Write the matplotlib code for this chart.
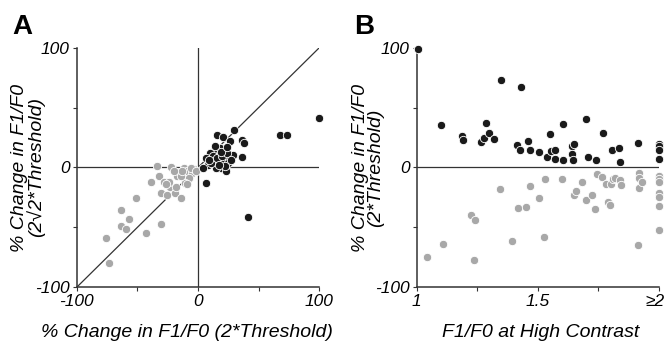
import matplotlib
matplotlib.use("Agg")
from matplotlib import pyplot as plt
import matplotlib.transforms as mtransforms
import numpy as np

plt.rcParams['font.family'] = ['Liberation Sans', 'DejaVu Sans']
plt.rcParams['font.style'] = 'italic'

# Panel A: % change at 2*threshold (x) vs 2*sqrt2*threshold (y)
a_black_x = [100, 67.6, 73.6, 30, 15.7, 21, 26.3, 36.3, 38, 36, 28.5, 22, 18, 13.7,
             10.2, 6.3, 18, 23.4, 12.3, 8.2, 4.2, 15.1, 19.3, 23.4, 6.5, 41.3, 15,
             20, 25, 11, 16, 20, 24, 14, 9, 22, 17, 27, 19, 24]
a_black_y = [41, 27.5, 27.3, 31.7, 26.8, 25.2, 22.3, 23, 20.5, 9, 10.8, 14.8, 16.2, 14.2,
             12, 7.8, 11.4, 7, 9.2, 2.3, -0.3, 3.7, -0.5, -2.8, -13, -41, -0.5,
             5, 4, 4, 8, 10, 12, 18, 6, 1, 2, 6, 13, 17]
a_gray_x = [-73.2, -76.2, -63.5, -63.5, -59.7, -56.9, -51.1, -42.8, -30.4, -39, -33.7,
            -32.3, -28.2, -30.4, -25.4, -22.1, -22.7, -19.3, -14.4, -17.1, -18.5, -11.6,
            -8.8, -4.7, -7.5, -11, -3.3, -14.4, -24, -9, -5.5, -13, -26, -20, -2]
a_gray_y = [-80, -59, -35.7, -48.7, -51.5, -42.6, -25.3, -54.6, -47, -12.5, 1.4,
            -6.7, -12.5, -20.9, -23.1, 0.8, -15.9, -21.4, -25.3, -7.5, -15.9, -0.6,
            -3.3, -4.7, -8.9, -13.1, -1.4, -7.5, -11.7, -14, -0.5, -3, -14, -3, -3]

# Panel B: F1/F0 at high contrast (x) vs % change (y)
b_black_x = [1.004, 1.10, 1.187, 1.19, 1.267, 1.278, 1.285, 1.30, 1.32, 1.347, 1.43,
             1.414, 1.426, 1.46, 1.469, 1.506, 1.549, 1.538, 1.554, 1.572, 1.571,
             1.602, 1.605, 1.641, 1.648, 1.641, 1.646, 1.697, 1.707, 1.739, 1.768,
             1.806, 1.834, 1.84, 1.913, 2.0, 2.0, 2.0, 2.0]
b_black_y = [99.3, 35.1, 26, 22.6, 20.9, 24.3, 37.1, 29, 23.7, 73.1, 67.2,
             18.7, 14.5, 22.3, 14.5, 13.1, 27.6, 8.9, 14, 14.5, 7.5,
             36, 6.4, 17.6, 19.8, 11.4, 6.1, 40.7, 8.6, 5.9, 28.5,
             14.5, 15.9, 4.2, 20.6, 19.5, 17.6, 14.8, 7.5]
b_gray_x = [1.044, 1.109, 1.224, 1.242, 1.237, 1.344, 1.393, 1.418, 1.451, 1.468, 1.505,
            1.53, 1.524, 1.60, 1.649, 1.657, 1.684, 1.70, 1.725, 1.737, 1.743, 1.765,
            1.781, 1.79, 1.798, 1.803, 1.809, 1.82, 1.84, 1.843, 1.916, 1.917, 1.917,
            1.928, 1.913, 2.0, 2.0, 2.0, 2.0, 2.0, 2.0, 2.0]
b_gray_y = [-74.5, -64.2, -39.9, -44.1, -77.3, -17.6, -61.1, -33.5, -32.6, -15.6, -25.4,
            -9.8, -58, -9.8, -23.2, -19.5, -11.7, -26.8, -22.9, -34.9, -5.3, -8.1,
            -13.9, -29, -31, -13.7, -9.5, -8.6, -10.3, -14.5, -4.2, -8.9, -17.3,
            -11.7, -64.4, -6.7, -9.5, -12.3, -20.9, -24.5, -31.8, -52.2]

black = '#1a1a1a'
gray = '#a8a8a8'
line_c = '#333333'

fig = plt.figure(figsize=(6.67, 3.46), dpi=100)
ax_a = fig.add_axes([0.115, 0.1697, 0.3637, 0.6924])
ax_b = fig.add_axes([0.6247, 0.1697, 0.3633, 0.6924])


def style(ax):
    for s in ['top', 'right']:
        ax.spines[s].set_visible(False)
    for s in ['left', 'bottom']:
        ax.spines[s].set_color(line_c)
        ax.spines[s].set_linewidth(1.1)
    ax.tick_params(direction='out', length=3, width=0.8, color=line_c,
                   labelsize=12.5, pad=2)
    ax.set_ylim(-100, 100)
    ax.set_yticks([-100, -50, 0, 50, 100])
    ax.set_yticklabels(['-100', '', '0', '', '100'], fontstyle='italic')


# panel A
style(ax_a)
ax_a.set_xlim(-100, 100)
ax_a.set_xticks([-100, -50, 0, 50, 100])
ax_a.set_xticklabels(['-100', '', '0', '', '100'], fontstyle='italic')
ax_a.axhline(0, color=line_c, lw=0.9, zorder=1)
ax_a.axvline(0, color=line_c, lw=0.9, zorder=1)
ax_a.plot([-100, 100], [-100, 100], color=line_c, lw=0.9, zorder=1)
ax_a.scatter(a_gray_x, a_gray_y, s=36, c=gray, edgecolors='white', linewidths=0.6,
             zorder=3, clip_on=False)
ax_a.scatter(a_black_x, a_black_y, s=36, c=black, edgecolors='white', linewidths=0.6,
             zorder=4, clip_on=False)
ax_a.set_ylabel('% Change in F1/F0\n(2\u221a2*Threshold)', fontsize=14, linespacing=0.85,
                va='center')
ax_a.yaxis.set_label_coords(-0.2, 0.5)
ax_a.set_xlabel('% Change in F1/F0 (2*Threshold)', fontsize=14, va='center')
ax_a.xaxis.set_label_coords(0.4526, -0.19)

# panel B
style(ax_b)
ax_b.set_xlim(1, 2)
ax_b.set_xticks([1, 1.25, 1.5, 1.75, 2])
ax_b.set_xticklabels(['1', '', '1.5', '', '\u22652'], fontstyle='italic')
# last label sits against the figure edge, as in the original
last = ax_b.get_xticklabels()[-1]
last.set_horizontalalignment('right')
last.set_transform(last.get_transform() +
                   mtransforms.ScaledTranslation(6 / 100, 0, fig.dpi_scale_trans))
ax_b.axhline(0, color=line_c, lw=0.9, zorder=1)
ax_b.scatter(b_gray_x, b_gray_y, s=36, c=gray, edgecolors='white', linewidths=0.6,
             zorder=3, clip_on=False)
ax_b.scatter(b_black_x, b_black_y, s=36, c=black, edgecolors='white', linewidths=0.6,
             zorder=4, clip_on=False)
ax_b.set_ylabel('% Change in F1/F0\n(2*Threshold)', fontsize=14, linespacing=0.85,
                va='center')
ax_b.yaxis.set_label_coords(-0.2, 0.5)
ax_b.set_xlabel('F1/F0 at High Contrast', fontsize=14, va='center')
ax_b.xaxis.set_label_coords(0.51, -0.19)

fig.text(12 / 667, 1 - 14 / 346, 'A', fontsize=20, fontweight='bold', style='normal',
         va='top', ha='left')
fig.text(354 / 667, 1 - 14 / 346, 'B', fontsize=20, fontweight='bold', style='normal',
         va='top', ha='left')

fig.savefig('out.png', dpi=100)
